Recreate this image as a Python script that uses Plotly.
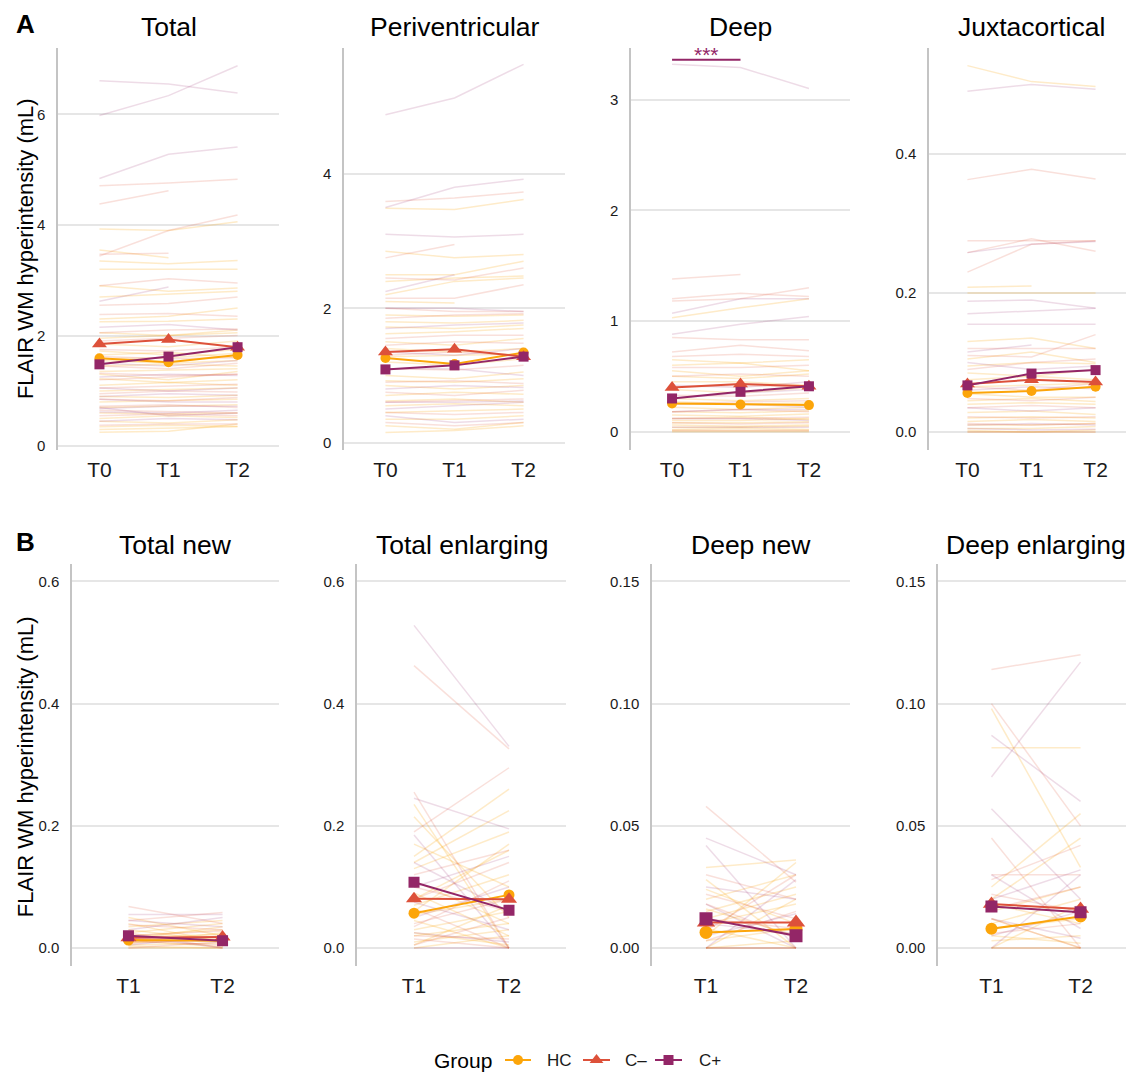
import plotly.graph_objects as go

W, H = 1134, 1076          # reference picture size
OFF = 8                    # page body margin in the browser
FW, FH = W - OFF, H - OFF  # figure size so that the figure ends at the window edge
FONT = "Liberation Sans, Arial, Helvetica, sans-serif"

TIMES_A = ["T0", "T1", "T2"]
TIMES_B = ["T1", "T2"]
GROUPS = ["HC", "C–", "C+"]
COLORS = {"HC": "#FCA50A", "C–": "#DD513A", "C+": "#932667"}
FAINT = {"HC": "rgba(252,165,10,0.22)", "C–": "rgba(221,81,58,0.18)", "C+": "rgba(147,38,103,0.16)"}
SYMBOLS = {"HC": "circle", "C–": "triangle-up", "C+": "square"}

# ---------------- Row A: individual trajectories ----------------
TOTAL_HC = [[3.93, 3.90, 4.06], [3.55, 3.41, None], [3.20, 3.20, 3.20], [3.35, 3.30, 3.36],
            [2.90, 2.80, 2.86], [2.30, 2.35, 2.50], [2.25, 2.26, 2.30], [1.95, 2.00, 2.05],
            [1.85, 1.80, 1.90], [1.65, 1.70, 1.60], [1.55, 1.50, 1.55], [1.35, 1.38, 1.40],
            [1.30, 1.20, 1.35], [1.10, 1.15, 1.10], [0.90, 0.88, 0.92], [0.80, 0.82, 0.85],
            [0.60, 0.58, 0.60], [0.50, 0.55, 0.52], [0.45, 0.42, 0.48], [0.30, 0.32, 0.35],
            [0.25, 0.27, 0.40], [2.70, 2.75, 2.80], [1.72, 1.65, 1.75], [1.45, 1.48, 1.45],
            [1.22, 1.15, 1.20], [1.00, 1.02, 1.05], [0.70, 0.72, 0.75], [0.35, 0.38, 0.36],
            [2.05, 2.00, 2.10], [1.58, 1.60, 1.68]]
TOTAL_CM = [[4.71, 4.76, 4.83], [4.38, 4.62, None], [3.44, 3.90, 4.18], [3.47, 3.49, None],
            [2.90, 3.03, 2.95], [2.55, 2.58, 2.70], [2.38, 2.40, 2.35], [2.05, 2.10, 2.12],
            [1.75, 1.72, 1.80], [1.45, 1.40, 1.50], [1.20, 1.25, 1.30], [0.95, 1.00, 0.98],
            [0.72, 0.75, 0.70], [0.55, 0.58, 0.55], [0.38, 0.40, 0.40], [1.90, 1.95, 2.00],
            [1.62, 1.58, 1.60], [1.32, 1.28, 1.30], [1.05, 1.08, 1.12], [0.85, 0.82, 0.88],
            [0.65, 0.62, 0.60]]
TOTAL_CP = [[6.61, 6.55, 6.39], [5.98, 6.34, 6.88], [4.84, 5.28, 5.41], [2.62, 2.88, None],
            [2.15, 2.20, 2.10], [1.05, 1.00, 1.05], [0.85, 0.80, 0.80], [0.68, 0.72, 0.72],
            [0.62, 0.60, 0.65], [0.70, 0.55, 0.60], [1.50, 1.45, 1.55], [1.25, 1.30, 1.28],
            [0.90, 0.95, 0.92], [0.45, 0.50, 0.48]]

PERI_HC = [[3.49, 3.47, 3.62], [2.85, 2.75, 2.80], [2.50, 2.50, 2.70], [2.20, 2.40, 2.45],
           [2.10, 2.08, None], [1.90, 1.88, 1.90], [1.80, 1.78, 1.82], [1.62, 1.65, 1.70],
           [1.50, 1.45, 1.55], [1.40, 1.35, 1.40], [1.20, 1.15, 1.25], [1.00, 0.95, 1.05],
           [0.85, 0.80, 0.85], [0.70, 0.75, 0.72], [0.55, 0.58, 0.55], [0.35, 0.35, 0.40],
           [0.25, 0.20, 0.30], [0.15, 0.18, 0.25], [2.40, 2.45, 2.48], [1.72, 1.70, 1.75],
           [1.28, 1.30, 1.32], [0.92, 0.90, 0.95], [0.62, 0.65, 0.60], [0.45, 0.48, 0.50]]
PERI_CM = [[3.59, 3.64, 3.73], [2.75, 2.95, None], [2.45, 2.42, 2.60], [2.15, 2.15, 2.35],
           [2.00, 1.95, 1.95], [1.55, 1.60, 1.60], [1.30, 1.35, 1.30], [0.90, 0.92, 0.88],
           [0.75, 0.70, 0.78], [0.45, 0.42, 0.45], [0.30, 0.25, 0.30], [1.85, 1.90, 1.92],
           [1.45, 1.50, 1.48], [1.10, 1.08, 1.15], [0.60, 0.62, 0.65]]
PERI_CP = [[4.88, 5.13, 5.63], [3.50, 3.80, 3.92], [3.10, 3.06, 3.10], [2.25, 2.50, None],
           [2.00, 2.00, 1.95], [1.70, 1.75, 1.78], [1.10, 1.10, 1.00], [0.60, 0.60, 0.62],
           [0.50, 0.55, 0.60], [0.40, 0.30, 0.35], [1.35, 1.30, 1.40], [0.80, 0.85, 0.82]]

DEEP_HC = [[1.03, 1.12, 1.20], [0.65, 0.62, 0.65], [0.60, 0.62, 0.55], [0.55, 0.50, 0.55],
           [0.45, 0.45, 0.42], [0.38, 0.35, 0.40], [0.30, 0.28, 0.30], [0.22, 0.20, 0.22],
           [0.15, 0.14, 0.16], [0.10, 0.10, 0.12], [0.06, 0.05, 0.06], [0.02, 0.03, 0.02],
           [0.00, 0.00, 0.00], [0.27, 0.25, 0.26], [0.18, 0.17, 0.19], [0.12, 0.13, 0.11],
           [0.08, 0.08, 0.09], [0.04, 0.04, 0.05], [0.01, 0.01, 0.01], [0.50, 0.48, 0.52]]
DEEP_CM = [[1.38, 1.42, None], [1.20, 1.25, 1.22], [1.18, 1.20, 1.30], [0.85, 0.83, 0.83],
           [0.72, 0.78, 0.73], [0.68, 0.70, 0.68], [0.58, 0.58, 0.60], [0.50, 0.52, 0.50],
           [0.33, 0.32, 0.35], [0.18, 0.20, 0.18], [0.08, 0.07, 0.08], [0.01, 0.01, 0.01],
           [0.25, 0.27, 0.28], [0.12, 0.12, 0.13], [0.40, 0.42, 0.40]]
DEEP_CP = [[3.32, 3.29, 3.10], [1.07, 1.20, 1.20], [0.88, 0.97, 1.04], [0.42, 0.40, 0.45],
           [0.25, 0.25, 0.22], [0.12, 0.12, 0.10], [0.04, 0.04, 0.04], [0.30, 0.35, 0.38],
           [0.18, 0.20, 0.20]]

JUXTA_HC = [[0.527, 0.504, 0.497], [0.208, 0.210, None], [0.200, 0.200, 0.200],
            [0.130, 0.135, 0.120], [0.105, 0.115, 0.100], [0.085, 0.080, 0.090],
            [0.075, 0.080, 0.075], [0.055, 0.050, 0.050], [0.040, 0.042, 0.040],
            [0.028, 0.030, 0.025], [0.015, 0.018, 0.015], [0.005, 0.005, 0.008],
            [0.002, 0.000, 0.003], [0.065, 0.068, 0.070], [0.045, 0.048, 0.044],
            [0.020, 0.022, 0.020], [0.010, 0.010, 0.012], [0.000, 0.000, 0.000],
            [0.095, 0.100, 0.098]]
JUXTA_CM = [[0.363, 0.378, 0.364], [0.275, 0.275, 0.275], [0.258, 0.278, 0.260],
            [0.230, 0.270, 0.275], [0.120, 0.120, 0.120], [0.110, 0.108, 0.140],
            [0.090, 0.100, 0.105], [0.065, 0.060, 0.070], [0.048, 0.045, 0.050],
            [0.022, 0.020, 0.022], [0.000, 0.000, 0.000], [0.035, 0.038, 0.035],
            [0.012, 0.010, 0.012]]
JUXTA_CP = [[0.490, 0.500, 0.493], [0.258, 0.270, 0.274], [0.188, 0.190, 0.178],
            [0.170, 0.174, 0.178], [0.155, 0.155, 0.155], [0.115, 0.125, None],
            [0.100, 0.090, 0.095], [0.035, 0.030, 0.035], [0.010, 0.012, 0.010],
            [0.005, 0.003, 0.004], [0.060, 0.065, 0.062]]

# ---------------- Row B: individual trajectories ----------------
TNEW_HC = [[0.050, 0.020], [0.040, 0.010], [0.035, 0.045], [0.020, 0.030], [0.015, 0.035],
           [0.010, 0.015], [0.000, 0.000], [0.003, 0.000], [0.008, 0.025], [0.030, 0.012],
           [0.025, 0.040], [0.005, 0.008], [0.012, 0.002], [0.018, 0.022]]
TNEW_CM = [[0.068, 0.040], [0.045, 0.058], [0.025, 0.000], [0.012, 0.005], [0.000, 0.010],
           [0.038, 0.030], [0.020, 0.028], [0.008, 0.015]]
TNEW_CP = [[0.055, 0.055], [0.030, 0.050], [0.005, 0.020], [0.020, 0.000], [0.045, 0.035],
           [0.015, 0.010]]

TENL_HC = [[0.235, 0.000], [0.215, 0.050], [0.150, 0.260], [0.140, 0.225], [0.130, 0.190],
           [0.090, 0.020], [0.070, 0.120], [0.060, 0.170], [0.045, 0.000], [0.030, 0.060],
           [0.020, 0.040], [0.010, 0.030], [0.000, 0.020], [0.110, 0.040], [0.170, 0.100],
           [0.055, 0.080], [0.025, 0.005], [0.080, 0.160], [0.005, 0.070]]
TENL_CM = [[0.462, 0.326], [0.255, 0.000], [0.190, 0.295], [0.120, 0.160], [0.080, 0.140],
           [0.040, 0.080], [0.015, 0.000], [0.005, 0.050], [0.065, 0.000], [0.100, 0.060],
           [0.035, 0.110], [0.020, 0.015]]
TENL_CP = [[0.528, 0.330], [0.245, 0.195], [0.185, 0.000], [0.100, 0.150], [0.050, 0.100],
           [0.025, 0.010], [0.000, 0.000], [0.140, 0.060], [0.075, 0.030]]

DNEW_HC = [[0.033, 0.036], [0.028, 0.000], [0.020, 0.030], [0.015, 0.025], [0.010, 0.018],
           [0.008, 0.000], [0.005, 0.035], [0.000, 0.020], [0.000, 0.000], [0.016, 0.005],
           [0.024, 0.010], [0.003, 0.008], [0.012, 0.022], [0.000, 0.003]]
DNEW_CM = [[0.058, 0.027], [0.022, 0.012], [0.012, 0.008], [0.003, 0.015], [0.000, 0.000],
           [0.030, 0.020], [0.018, 0.004], [0.007, 0.030]]
DNEW_CP = [[0.045, 0.030], [0.042, 0.000], [0.025, 0.020], [0.018, 0.000], [0.000, 0.000],
           [0.000, 0.028], [0.010, 0.006], [0.005, 0.014]]

DENL_HC = [[0.098, 0.033], [0.082, 0.082], [0.025, 0.055], [0.018, 0.010], [0.015, 0.025],
           [0.010, 0.020], [0.003, 0.005], [0.000, 0.000], [0.008, 0.012], [0.020, 0.045],
           [0.005, 0.002], [0.000, 0.018], [0.012, 0.000]]
DENL_CM = [[0.114, 0.120], [0.100, 0.050], [0.045, 0.000], [0.030, 0.030], [0.028, 0.042],
           [0.012, 0.000], [0.000, 0.000], [0.022, 0.015], [0.006, 0.010], [0.016, 0.025]]
DENL_CP = [[0.087, 0.060], [0.070, 0.117], [0.057, 0.020], [0.020, 0.032], [0.005, 0.015],
           [0.000, 0.030], [0.030, 0.008], [0.012, 0.004]]

# ---------------- Group means ----------------
MEAN_TOTAL = {"HC": [1.59, 1.52, 1.65], "C–": [1.85, 1.93, 1.79], "C+": [1.48, 1.62, 1.79]}
MEAN_PERI = {"HC": [1.26, 1.17, 1.34], "C–": [1.35, 1.39, 1.28], "C+": [1.09, 1.15, 1.28]}
MEAN_DEEP = {"HC": [0.255, 0.246, 0.240], "C–": [0.40, 0.43, 0.41], "C+": [0.30, 0.36, 0.41]}
MEAN_JUXTA = {"HC": [0.056, 0.059, 0.065], "C–": [0.069, 0.075, 0.072], "C+": [0.067, 0.084, 0.089]}
MEAN_TNEW = {"HC": [0.013, 0.012], "C–": [0.017, 0.018], "C+": [0.020, 0.012]}
MEAN_TENL = {"HC": [0.057, 0.087], "C–": [0.0805, 0.080], "C+": [0.1076, 0.062]}
MEAN_DNEW = {"HC": [0.0064, 0.0078], "C–": [0.0105, 0.0105], "C+": [0.012, 0.005]}
MEAN_DENL = {"HC": [0.0079, 0.0129], "C–": [0.018, 0.016], "C+": [0.017, 0.0147]}

PANELS = [
    dict(title="Total", times=TIMES_A, ind={"HC": TOTAL_HC, "C–": TOTAL_CM, "C+": TOTAL_CP},
         means=MEAN_TOTAL, px=(58, 279), py=(47.7, 451.7), yr=[-0.07, 7.21],
         ticks=[0, 2, 4, 6], fmt="d", ms=10),
    dict(title="Periventricular", times=TIMES_A, ind={"HC": PERI_HC, "C–": PERI_CM, "C+": PERI_CP},
         means=MEAN_PERI, px=(344, 565), py=(47.7, 451.7), yr=[-0.11, 5.88],
         ticks=[0, 2, 4], fmt="d", ms=10),
    dict(title="Deep", times=TIMES_A, ind={"HC": DEEP_HC, "C–": DEEP_CM, "C+": DEEP_CP},
         means=MEAN_DEEP, px=(631, 850), py=(47.7, 451.7), yr=[-0.166, 3.47],
         ticks=[0, 1, 2, 3], fmt="d", ms=10),
    dict(title="Juxtacortical", times=TIMES_A, ind={"HC": JUXTA_HC, "C–": JUXTA_CM, "C+": JUXTA_CP},
         means=MEAN_JUXTA, px=(929, 1136), py=(47.7, 451.7), yr=[-0.026, 0.553],
         ticks=[0, 0.2, 0.4], fmt=".1f", ms=10),
    dict(title="Total new", times=TIMES_B, ind={"HC": TNEW_HC, "C–": TNEW_CM, "C+": TNEW_CP},
         means=MEAN_TNEW, px=(72, 279), py=(565.7, 970), yr=[-0.03, 0.629],
         ticks=[0, 0.2, 0.4, 0.6], fmt=".1f", ms=11),
    dict(title="Total enlarging", times=TIMES_B, ind={"HC": TENL_HC, "C–": TENL_CM, "C+": TENL_CP},
         means=MEAN_TENL, px=(357, 566), py=(565.7, 970), yr=[-0.03, 0.629],
         ticks=[0, 0.2, 0.4, 0.6], fmt=".1f", ms=11),
    dict(title="Deep new", times=TIMES_B, ind={"HC": DNEW_HC, "C–": DNEW_CM, "C+": DNEW_CP},
         means=MEAN_DNEW, px=(652, 850), py=(565.7, 970), yr=[-0.0075, 0.1573],
         ticks=[0, 0.05, 0.10, 0.15], fmt=".2f", ms=13),
    dict(title="Deep enlarging", times=TIMES_B, ind={"HC": DENL_HC, "C–": DENL_CM, "C+": DENL_CP},
         means=MEAN_DENL, px=(938, 1136), py=(565.7, 970), yr=[-0.0075, 0.1573],
         ticks=[0, 0.05, 0.10, 0.15], fmt=".2f", ms=12),
]


def pxx(x):
    """reference pixel x -> paper coordinate"""
    return (x - OFF) / FW


def pxy(y):
    """reference pixel y -> paper coordinate"""
    return 1 - (y - OFF) / FH


fig = go.Figure()
annotations = []
shapes = []
layout_axes = {}

for i, p in enumerate(PANELS, start=1):
    xa = "x" if i == 1 else f"x{i}"
    ya = "y" if i == 1 else f"y{i}"
    n = len(p["times"])
    # faint individual lines
    for g in GROUPS:
        xs, ys = [], []
        for subj in p["ind"][g]:
            xs += list(range(n)) + [None]
            ys += list(subj) + [None]
        fig.add_trace(go.Scatter(x=xs, y=ys, mode="lines", xaxis=xa, yaxis=ya,
                                 line=dict(color=FAINT[g], width=1.5),
                                 showlegend=False, hoverinfo="skip"))
    # group means
    for g in GROUPS:
        sz = p["ms"] + (3 if g == "C–" else 0)
        fig.add_trace(go.Scatter(x=list(range(n)), y=p["means"][g], mode="lines+markers",
                                 xaxis=xa, yaxis=ya, name=g,
                                 line=dict(color=COLORS[g], width=2),
                                 marker=dict(symbol=SYMBOLS[g], size=sz, color=COLORS[g]),
                                 showlegend=False))
    xkey = "xaxis" if i == 1 else f"xaxis{i}"
    ykey = "yaxis" if i == 1 else f"yaxis{i}"
    dom_x = [pxx(p["px"][0]), min(1.0, pxx(p["px"][1]))]
    dom_y = [pxy(p["py"][1]), pxy(p["py"][0])]
    layout_axes[xkey] = dict(domain=dom_x, anchor=ya, range=[-0.6, n - 1 + 0.6],
                             tickvals=list(range(n)), ticktext=p["times"],
                             showgrid=False, zeroline=False, showline=False, ticks="",
                             tickfont=dict(size=21, color="#1a1a1a", family=FONT),
                             ticklabelstandoff=5, fixedrange=True)
    layout_axes[ykey] = dict(domain=dom_y, anchor=xa, range=p["yr"], tickvals=p["ticks"],
                             tickformat=p["fmt"], showgrid=True, gridcolor="#E6E6E6",
                             gridwidth=1.5, zeroline=False, showline=True,
                             linecolor="#C4C4C4", linewidth=1.5, ticks="",
                             tickfont=dict(size=15, color="#1a1a1a", family=FONT),
                             ticklabelstandoff=8, fixedrange=True)
    cx = (p["px"][0] + min(p["px"][1], W)) / 2 if i in (4, 8) else (p["px"][0] + p["px"][1]) / 2
    annotations.append(dict(text=p["title"], xref="paper", yref="paper",
                            x=pxx(cx), y=pxy(27 if i <= 4 else 547),
                            xanchor="center", yanchor="middle",
                            showarrow=False, font=dict(size=26.5, color="#000000", family=FONT)))

# significance bar in Deep panel
shapes.append(dict(type="line", xref="x3", yref="y3", x0=0, x1=1, y0=3.36, y1=3.36,
                   line=dict(color=COLORS["C+"], width=2)))
annotations.append(dict(text="***", xref="x3", yref="y3", x=0.5, y=3.36, yanchor="bottom",
                        xanchor="center", showarrow=False, yshift=-8,
                        font=dict(size=21, color=COLORS["C+"], family=FONT)))

# panel letters
for letter, yy in (("A", 24), ("B", 544)):
    annotations.append(dict(text=f"<b>{letter}</b>", xref="paper", yref="paper", x=pxx(25),
                            y=pxy(yy), xanchor="center", yanchor="middle", showarrow=False,
                            borderpad=0, font=dict(size=26, color="#000000", family=FONT)))

# y-axis titles
for yy in (250, 770):
    annotations.append(dict(text="FLAIR WM hyperintensity (mL)", xref="paper", yref="paper",
                            x=pxx(25), y=pxy(yy), xanchor="center", yanchor="middle",
                            textangle=-90, showarrow=False,
                            font=dict(size=22, color="#000000", family=FONT)))

# ---------------- Legend (drawn in a hidden pixel-space axis) ----------------
LEG_X = {"HC": (505, 531, 545), "C–": (583, 610, 623), "C+": (655, 682, 697)}
leg_y = H - 1064
for g in GROUPS:
    x0, x1, xt = LEG_X[g]
    fig.add_trace(go.Scatter(x=[x0, x1], y=[leg_y, leg_y], mode="lines", xaxis="x9", yaxis="y9",
                             line=dict(color=COLORS[g], width=2), showlegend=False, hoverinfo="skip"))
    fig.add_trace(go.Scatter(x=[(x0 + x1) / 2], y=[leg_y], mode="markers", xaxis="x9", yaxis="y9",
                             marker=dict(symbol=SYMBOLS[g], size=10 if g != "C–" else 12,
                                         color=COLORS[g]),
                             showlegend=False, hoverinfo="skip"))
    annotations.append(dict(text=g, xref="x9", yref="y9", x=xt, y=leg_y, xanchor="left",
                            yanchor="middle", showarrow=False,
                            font=dict(size=17, color="#1a1a1a", family=FONT)))
annotations.append(dict(text="Group", xref="x9", yref="y9", x=432, y=leg_y, xanchor="left",
                        yanchor="middle", showarrow=False,
                        font=dict(size=21, color="#000000", family=FONT)))
layout_axes["xaxis9"] = dict(domain=[0, 1], anchor="y9", range=[OFF, W], visible=False, fixedrange=True)
layout_axes["yaxis9"] = dict(domain=[0, 50 / FH], anchor="x9", range=[0, 50], visible=False, fixedrange=True)

fig.update_layout(width=FW, height=FH, autosize=False,
                  margin=dict(l=0, r=0, t=0, b=0),
                  paper_bgcolor="white", plot_bgcolor="white",
                  showlegend=False, annotations=annotations, shapes=shapes,
                  font=dict(family=FONT), **layout_axes)

fig.write_html("out.html")
